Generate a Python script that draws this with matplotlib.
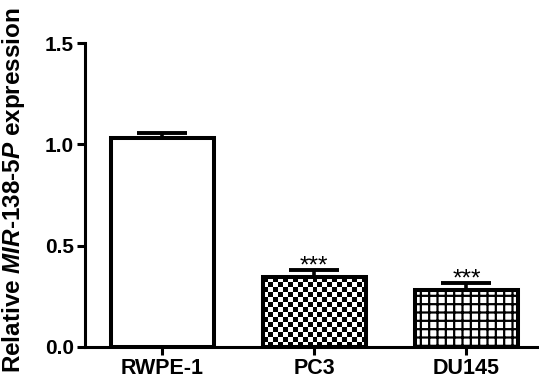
import numpy as np
import matplotlib
matplotlib.use("Agg")
import matplotlib.pyplot as plt

plt.rcParams['font.family'] = ['Liberation Sans', 'DejaVu Sans']
plt.rcParams['font.weight'] = 'bold'
plt.rcParams['mathtext.fontset'] = 'custom'
plt.rcParams['mathtext.it'] = 'Liberation Sans:italic:bold'
plt.rcParams['mathtext.rm'] = 'Liberation Sans:bold'
plt.rcParams['hatch.linewidth'] = 1.6

# data
groups = ['RWPE-1', 'PC3', 'DU145']
means = [1.03, 0.345, 0.28]
errs = [0.028, 0.035, 0.035]
stars = ['', '***', '***']
yticks = [0.0, 0.5, 1.0, 1.5]

fig = plt.figure(figsize=(5.39, 3.85), dpi=100)
ax = fig.add_axes([0.158, 0.099, 0.84, 0.789])

x = np.arange(len(groups))
bars = ax.bar(x, means, width=0.68, facecolor='white', edgecolor='black',
              linewidth=2.9, zorder=3)
bars[1].set_facecolor('none')
bars[2].set_hatch('++')

ax.errorbar(x, means, yerr=[np.zeros(len(errs)), errs], fmt='none',
            ecolor='black', elinewidth=2.6, capsize=18, capthick=2.8, zorder=2)

for xi, m, e, s in zip(x, means, errs, stars):
    if s:
        ax.text(xi, m + e - 0.012, s, ha='center', va='baseline', fontsize=17.5,
                fontweight='normal')

ax.set_xlim(-0.507, 2.47)
ax.set_ylim(0, 1.5)

# checkerboard fill for PC3
fig.canvas.draw()
b = bars[1]
x0, y0 = b.get_x(), b.get_y()
x1, y1 = x0 + b.get_width(), y0 + b.get_height()
p0 = ax.transData.transform((x0, y0))
p1 = ax.transData.transform((x1, y1))
nc = int(round((p1[0] - p0[0]) / 5.0))
nr = int(round((p1[1] - p0[1]) / 5.0))
checker = (np.indices((nr, nc)).sum(axis=0) % 2).astype(float)
ax.imshow(checker, cmap='gray', extent=(x0, x1, y0, y1), aspect='auto',
          interpolation='nearest', zorder=2.5)
ax.set_xlim(-0.507, 2.47)
ax.set_ylim(0, 1.5)

ax.set_xticks(x)
ax.set_xticklabels(groups, fontsize=15.5, fontweight='bold')
ax.set_yticks(yticks)
ax.set_yticklabels(['%.1f' % v for v in yticks], fontsize=15, fontweight='bold')
ax.tick_params(width=2.2, length=6, direction='out', pad=2)
for sp in ['top', 'right']:
    ax.spines[sp].set_visible(False)
for sp in ['left', 'bottom']:
    ax.spines[sp].set_linewidth(2.2)

ax.set_ylabel(r'Relative $\mathit{MIR}$-$\mathit{138}$-$\mathit{5P}$ expression',
              fontsize=17.5, fontweight='bold')
ax.yaxis.set_label_coords(-0.128, 0.516)

fig.savefig('out.png', dpi=100)
